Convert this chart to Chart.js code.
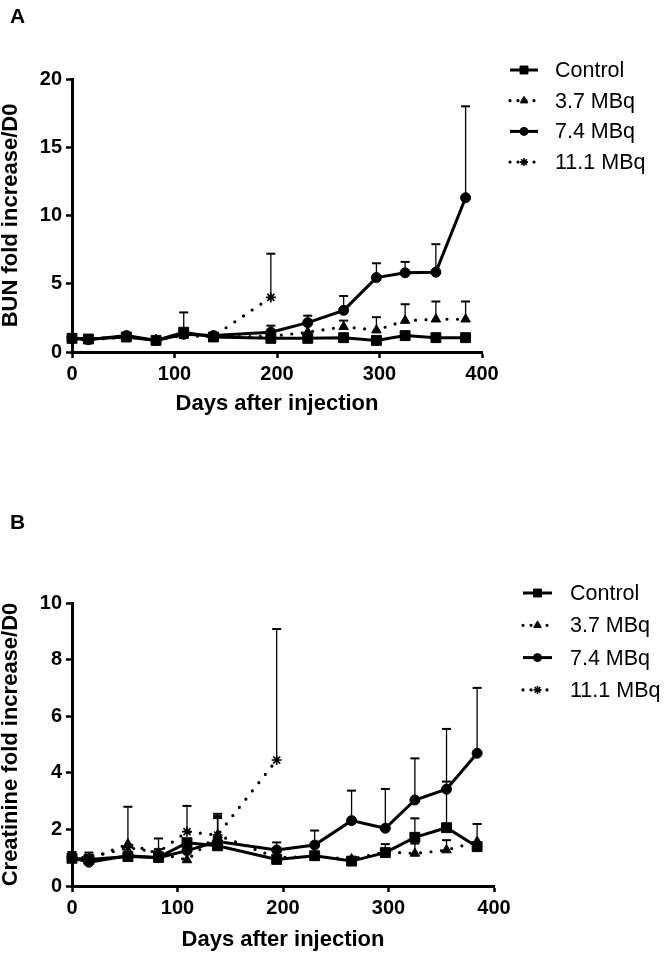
<!DOCTYPE html>
<html>
<head>
<meta charset="utf-8">
<script src="https://cdn.jsdelivr.net/npm/chart.js@4.4.1/dist/chart.umd.min.js"></script>
<style>
  html, body { margin: 0; padding: 0; background: #fff; }
  #boxA { position: absolute; left: 0; top: 0; width: 669px; height: 480px; }
  #boxB { position: absolute; left: 0; top: 480px; width: 669px; height: 479px; }
</style>
</head>
<body>
<div id="boxA"><canvas id="chartA" width="669" height="480"></canvas></div>
<div id="boxB"><canvas id="chartB" width="669" height="479"></canvas></div>
<script>
// --- DATA ---
const days = [0, 16, 53, 82, 109, 138, 194, 230, 265, 297, 325, 355, 384];
const seriesLabels = ['Control', '3.7 MBq', '7.4 MBq', '11.1 MBq'];

// A: BUN fold increase / D0
const bunControl = [1.0, 0.95, 1.1, 0.85, 1.45, 1.1, 1.0, 1.0, 1.05, 0.85, 1.2, 1.05, 1.05];
const bun37      = [1.0, 0.9, 1.1, 0.9, 1.2, 1.1, 1.15, 1.45, 1.85, 1.6, 2.3, 2.4, 2.4];
const bun74      = [1.0, 0.9, 1.2, 0.85, 1.3, 1.2, 1.45, 2.15, 3.05, 5.45, 5.8, 5.85, 11.3];
const bun111     = [1.0, 0.95, 1.1, 0.9, 1.3, 1.15, 4.0];
const bunControlErr = [null, null, null, null, 2.9, null, null, null, null, null, null, null, null];
const bun37Err      = [null, null, null, null, null, null, null, null, 2.3, 2.55, 3.5, 3.7, 3.7];
const bun74Err      = [null, null, null, null, null, null, 1.93, 2.66, 4.1, 6.5, 6.6, 7.9, 18.0];
const bun111Err     = [null, null, null, null, null, null, 7.2];

// B: Creatinine fold increase / D0
const creaControl = [0.98, 0.94, 1.04, 1.01, 1.53, 1.42, 0.94, 1.07, 0.88, 1.18, 1.72, 2.06, 1.39];
const crea37      = [1.0, 0.95, 1.48, 1.15, 0.92, 1.8, 1.0, 1.05, 0.95, 1.2, 1.15, 1.27, 1.57];
const crea74      = [1.0, 0.84, 1.07, 1.0, 1.25, 1.57, 1.27, 1.45, 2.31, 2.04, 3.04, 3.42, 4.69];
const crea111     = [1.0, 1.0, 1.35, 1.2, 1.92, 1.8, 4.45];
const creaControlErr = [1.2, 1.18, null, 1.3, null, 2.4, null, null, null, 1.48, 2.39, 3.69, null];
const crea37Err      = [null, null, 2.8, 1.68, null, null, null, null, null, 1.3, 1.5, 1.62, 2.19];
const crea74Err      = [null, null, null, null, null, 2.47, 1.54, 1.96, 3.37, 3.43, 4.51, 5.55, 7.0];
const crea111Err     = [null, null, null, null, 2.83, 2.55, 9.08];

const xTicks = [0, 100, 200, 300, 400];

// --- HELPERS ---
const tickFont = { family: "'Liberation Sans Narrow', 'Liberation Sans', Arial, sans-serif", size: 20, weight: 'bold' };
const titleFont = { family: "'Liberation Sans', Arial, sans-serif", size: 22, weight: 'bold', lineHeight: 1 };

function pts(vals) {
    return vals.map((v, i) => ({ x: days[i], y: v }));
}

function makeDataset(label, vals, errs, style, dotted, radius) {
    return {
        label: label,
        data: pts(vals),
        errTop: errs,
        borderColor: '#000',
        backgroundColor: '#000',
        borderWidth: dotted ? 3.2 : 3,
        borderDash: dotted ? [0, 10.5] : [],
        borderCapStyle: dotted ? 'round' : 'butt',
        pointStyle: style,
        pointRadius: radius,
        pointBorderWidth: style === 'star' ? 1.6 : 1,
        pointBorderColor: '#000',
        pointBackgroundColor: '#000',
        tension: 0,
        clip: false
    };
}

// error bars (upper only), drawn under the lines
const errorBars = {
    id: 'errorBars',
    beforeDatasetsDraw(chart) {
        const ctx = chart.ctx;
        const yScale = chart.scales.y;
        chart.data.datasets.forEach((ds, i) => {
            if (!ds.errTop) return;
            const meta = chart.getDatasetMeta(i);
            meta.data.forEach((pt, j) => {
                const top = ds.errTop[j];
                if (top == null) return;
                const yTop = yScale.getPixelForValue(top);
                ctx.save();
                ctx.strokeStyle = '#000';
                ctx.lineWidth = 1.3;
                ctx.beginPath();
                ctx.moveTo(pt.x, pt.y);
                ctx.lineTo(pt.x, yTop);
                ctx.stroke();
                ctx.lineWidth = 2;
                ctx.beginPath();
                ctx.moveTo(pt.x - 4.5, yTop);
                ctx.lineTo(pt.x + 4.5, yTop);
                ctx.stroke();
                ctx.restore();
            });
        });
    }
};

// legend on the right + panel letter
const sideLegend = {
    id: 'sideLegend',
    afterDraw(chart, args, opts) {
        const ctx = chart.ctx;
        ctx.save();
        ctx.fillStyle = '#000';
        ctx.textBaseline = 'alphabetic';
        ctx.font = "bold 21px 'Liberation Sans', Arial, sans-serif";
        ctx.fillText(opts.letter, opts.letterX, opts.letterY);

        chart.data.datasets.forEach((ds, i) => {
            const cy = opts.top + i * opts.step;
            const x0 = opts.left, x1 = opts.left + opts.lineLen;
            ctx.strokeStyle = '#000';
            ctx.lineWidth = ds.borderWidth;
            ctx.lineCap = ds.borderCapStyle;
            ctx.setLineDash(ds.borderDash.length ? [0, 8] : []);
            ctx.beginPath();
            ctx.moveTo(x0, cy);
            ctx.lineTo(x1, cy);
            ctx.stroke();
            ctx.setLineDash([]);
            ctx.lineCap = 'butt';
            ctx.lineWidth = ds.pointBorderWidth;
            Chart.helpers.drawPoint(ctx, {
                pointStyle: ds.pointStyle,
                radius: ds.pointRadius * 0.8,
                borderWidth: ds.pointBorderWidth,
                rotation: 0
            }, (x0 + x1) / 2, cy);

            ctx.font = "21.5px 'Liberation Sans', Arial, sans-serif";
            ctx.textBaseline = 'middle';
            ctx.fillText(ds.label, opts.textX, cy + 1);
        });
        ctx.restore();
    }
};

function makeChart(canvasId, cfg) {
    return new Chart(document.getElementById(canvasId), {
        type: 'line',
        data: {
            datasets: [
                makeDataset(seriesLabels[0], cfg.control, cfg.controlErr, 'rect', false, 7),
                makeDataset(seriesLabels[1], cfg.s37, cfg.s37Err, 'triangle', true, 5.5),
                makeDataset(seriesLabels[2], cfg.s74, cfg.s74Err, 'circle', false, 5),
                makeDataset(seriesLabels[3], cfg.s111, cfg.s111Err, 'star', true, 5)
            ]
        },
        options: {
            responsive: false,
            animation: false,
            devicePixelRatio: 1,
            layout: { padding: cfg.padding },
            plugins: {
                legend: { display: false },
                tooltip: { enabled: false },
                sideLegend: cfg.legend
            },
            scales: {
                x: {
                    type: 'linear',
                    min: 0,
                    max: 400,
                    afterBuildTicks: (s) => { s.ticks = xTicks.map(v => ({ value: v })); },
                    afterFit: (s) => { s.height = cfg.xHeight; },
                    border: { display: true, width: 3, color: '#000' },
                    grid: { drawOnChartArea: false, drawTicks: true, tickLength: 6, tickWidth: 2.5, tickColor: '#000' },
                    ticks: { color: '#000', font: tickFont, padding: 4, maxRotation: 0 },
                    title: { display: true, text: 'Days after injection', color: '#000', font: titleFont, padding: { top: 0, bottom: cfg.xTitlePad } }
                },
                y: {
                    min: 0,
                    max: cfg.yMax,
                    afterBuildTicks: (s) => { s.ticks = cfg.yTicks.map(v => ({ value: v })); },
                    afterFit: (s) => { s.width = 72; },
                    border: { display: true, width: 3, color: '#000' },
                    grid: { drawOnChartArea: false, drawTicks: true, tickLength: 6, tickWidth: 2.5, tickColor: '#000' },
                    ticks: { color: '#000', font: tickFont, padding: 4 },
                    title: { display: true, text: cfg.yTitle, color: '#000', font: titleFont, padding: { top: 0, bottom: 0 } }
                }
            }
        },
        plugins: [errorBars, sideLegend]
    });
}

// --- PANEL A ---
makeChart('chartA', {
    control: bunControl, controlErr: bunControlErr,
    s37: bun37, s37Err: bun37Err,
    s74: bun74, s74Err: bun74Err,
    s111: bun111, s111Err: bun111Err,
    yMax: 20, yTicks: [0, 5, 10, 15, 20],
    yTitle: 'BUN fold increase/D0',
    padding: { top: 79, left: 0, right: 187, bottom: 58 },
    xHeight: 70, xTitlePad: 7,
    legend: { letter: 'A', letterX: 10, letterY: 23, left: 510, lineLen: 28, textX: 555, top: 70, step: 30.7 }
});

// --- PANEL B ---
makeChart('chartB', {
    control: creaControl, controlErr: creaControlErr,
    s37: crea37, s37Err: crea37Err,
    s74: crea74, s74Err: crea74Err,
    s111: crea111, s111Err: crea111Err,
    yMax: 10, yTicks: [0, 2, 4, 6, 8, 10],
    yTitle: 'Creatinine fold increase/D0',
    padding: { top: 123, left: 0, right: 175, bottom: 0 },
    xHeight: 73, xTitlePad: 8,
    legend: { letter: 'B', letterX: 10, letterY: 49, left: 523, lineLen: 29, textX: 570, top: 113, step: 32.3 }
});
</script>
</body>
</html>
